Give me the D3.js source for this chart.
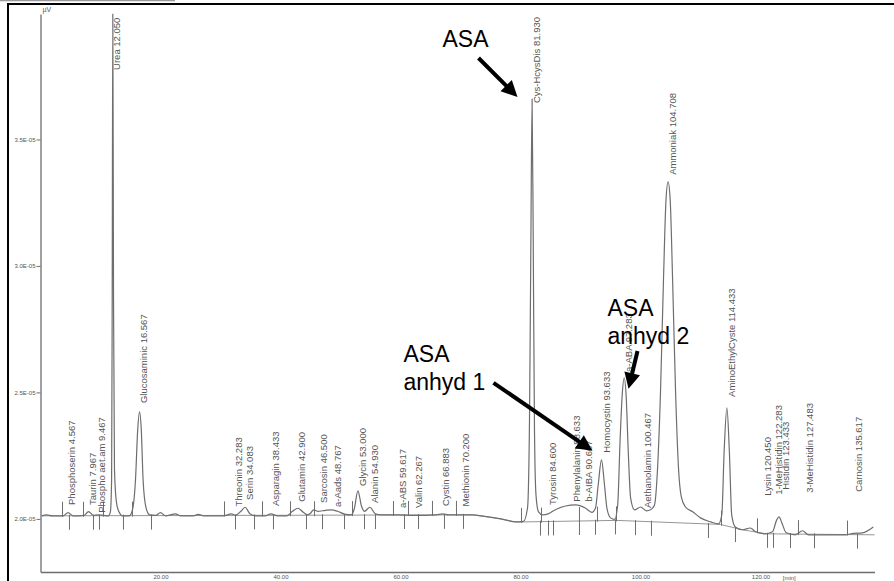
<!DOCTYPE html>
<html>
<head>
<meta charset="utf-8">
<script src="https://cdnjs.cloudflare.com/ajax/libs/d3/7.8.5/d3.min.js"></script>
<style>
body{margin:0;background:#fff;}
svg{display:block;}
</style>
</head>
<body>
<svg id="chart" width="894" height="581"></svg>
<script>
// detector signal, [time in min, signal in 1E-05 uV]
var trace = [
    [0.2,2.012],[1.0,2.016],[2.0,2.012],[3.8,2.012],[4.6,2.025],[5.4,2.012],
    [7.3,2.014],[8.0,2.029],[8.8,2.014],[9.5,2.016],[10.5,2.014],[11.3,2.012],
    [11.65,2.028],[11.85,2.154],[11.95,2.866],[12.05,3.996],[12.17,2.866],[12.33,2.194],
    [12.67,2.063],[13.08,2.028],[13.67,2.012],[14.8,2.012],
    [15.33,2.036],[15.83,2.154],[16.2,2.352],[16.5,2.423],[16.8,2.352],[17.1,2.154],
    [17.6,2.043],[18.2,2.016],[19.2,2.014],[20.0,2.025],[20.8,2.012],[22.5,2.020],
    [23.3,2.012],[25.5,2.012],[26.3,2.018],[27.2,2.012],[30.5,2.012],[31.8,2.020],
    [32.5,2.014],[33.4,2.030],[34.1,2.046],[34.9,2.020],[35.8,2.012],[37.5,2.012],
    [38.4,2.020],[39.5,2.012],[41.0,2.012],[42.0,2.030],[42.9,2.042],[43.8,2.026],
    [44.5,2.016],[45.0,2.022],[45.5,2.036],[46.2,2.030],[47.5,2.034],[48.5,2.036],
    [49.5,2.030],[50.8,2.018],[51.8,2.016],[52.3,2.040],[52.9,2.111],[53.5,2.050],
    [54.0,2.030],[54.9,2.046],[55.8,2.020],[56.8,2.016],[59.6,2.016],[62.0,2.014],
    [66.0,2.016],[67.0,2.020],[68.0,2.016],[72.0,2.016],[74.0,2.010],[76.7,2.000],
    [79.2,1.988],[80.5,1.990],
    [81.17,2.043],[81.5,2.391],[81.72,3.063],[81.93,3.660],[82.13,3.063],[82.33,2.352],
    [82.58,2.095],[83.0,2.028],[83.7,2.016],[84.6,2.020],[85.8,2.036],[87.5,2.051],
    [89.2,2.055],[90.8,2.043],[91.9,2.026],
    [92.5,2.043],[92.95,2.134],[93.5,2.233],[94.0,2.134],[94.4,2.043],[95.0,2.004],
    [95.7,1.998],[96.2,2.055],[96.6,2.312],[96.95,2.490],[97.28,2.557],[97.6,2.490],
    [97.95,2.273],[98.35,2.083],[99.0,2.036],[100.0,2.047],[101.0,2.032],[101.67,2.036],
    [102.33,2.055],[102.83,2.194],[103.33,2.498],[103.83,2.945],[104.25,3.261],[104.6,3.332],
    [104.95,3.261],[105.35,2.945],[105.85,2.498],[106.35,2.194],[106.8,2.087],[107.5,2.047],
    [108.7,2.028],[110.0,2.004],[111.7,1.988],[113.0,1.980],
    [113.55,2.016],[113.95,2.273],[114.4,2.439],[114.8,2.273],[115.2,2.016],[115.8,1.968],
    [117.0,1.957],[118.3,1.964],[119.2,1.949],[120.8,1.941],[122.0,1.949],[122.7,1.996],
    [123.1,2.008],[123.5,1.988],[124.3,1.945],[125.8,1.937],[127.0,1.953],[128.0,1.937],
    [134.2,1.937],[135.5,1.943],[137.0,1.945],[138.8,1.968]
];

// integration baseline
var baseline = [[0.2,2.012],[72,2.016],[74,2.010],[76.7,2.000],[79.2,1.988],[80.5,1.988],
    [96,1.994],[113.3,1.978],[117,1.957],[121,1.941],[139,1.937]];

var peakNames = ["Phosphoserin","Taurin","Phospho aet.am","Urea","Glucosaminic","Threonin","Serin",
    "Asparagin","Glutamin","Sarcosin","a-Aads","Glycin","Alanin","a-ABS","Valin","Cystin",
    "Methionin","Cys-HcysDis","Tyrosin","Phenylalanin","b-AIBA","Homocystin","a-ABA",
    "Aethanolamin","Ammoniak","AminoEthylCyste","Lysin","1-MeHistidin","Histidin",
    "3-MeHistidin","Carnosin"];
var peakTimes = [4.567,7.967,9.467,12.050,16.567,32.283,34.083,38.433,42.900,46.500,48.767,
    53.000,54.930,59.617,62.267,66.883,70.200,81.930,84.600,88.633,90.667,93.633,97.283,
    100.467,104.708,114.433,120.450,122.283,123.433,127.483,135.617];
// signal level where each peak label starts
var labelLevels = [2.055,2.055,2.024,3.775,2.458,2.049,2.075,2.051,2.068,2.063,2.047,2.130,
    2.063,2.043,2.043,2.051,2.049,3.644,2.055,2.068,2.068,2.261,2.581,2.043,3.360,2.482,
    2.091,2.095,2.115,2.103,2.107];

// peak start / end markers
var startMarks = [3.67,7.17,10.5,15.33,30.67,37.0,41.67,45.67,52.0,58.83,61.33,65.33,69.33,
    80.17,83.5,89.83,92.83,96.0,113.5,119.5,126.33,134.5];
var endMarks = [4.83,8.83,9.83,13.83,18.5,32.5,35.67,38.83,44.33,47.0,50.67,54.0,55.83,60.67,
    63.0,67.33,70.5,83.33,84.67,85.5,89.83,92.5,95.83,99.17,101.83,111.33,115.83,121.17,
    122.17,125.0,129.0,136.17];

var yTicks = [2.0,2.5,3.0,3.5];
var xTicks = [20,40,60,80,100,120];

// hand annotations: text at [t,v], arrow from [t,v] to [t,v]
var noteLines = [["ASA"],["ASA","anhyd 1"],["ASA","anhyd 2"]];
var notePos = [[67.0,3.866],[60.5,2.621],[94.5,2.802]];
var arrowFrom = [[73.0,3.822],[75.5,2.538],[99.5,2.664]];
var arrowTo = [[79.5,3.668],[92.0,2.269],[98.0,2.514]];

var svg = d3.select("#chart");

var x = d3.scaleLinear().domain([0,139]).range([40.5,874.5]);
var y = d3.scaleLinear().domain([1.79,3.996]).range([572,14]);

var grey = "#6e6e6e";

// frame
svg.append("line")
    .attr("x1",0).attr("y1",0.5).attr("x2",175).attr("y2",0.5)
    .style("stroke","#999").style("stroke-width",1.5);
svg.append("path")
    .attr("d","M8,581V4H894")
    .style("fill","none").style("stroke","#000").style("stroke-width",2);

// axes
var yAxis = d3.axisLeft(y)
    .tickValues(yTicks)
    .tickSizeInner(4).tickSizeOuter(0).tickPadding(1)
    .tickFormat(function(d){ return d.toFixed(1) + "E-05"; });
var xAxis = d3.axisBottom(x)
    .tickValues(xTicks)
    .tickSizeInner(0).tickSizeOuter(0).tickPadding(3)
    .tickFormat(d3.format(".2f"));

var gy = svg.append("g").attr("transform","translate(" + x(0) + ",0)").call(yAxis);
var gx = svg.append("g").attr("transform","translate(0,572)").call(xAxis);

[gx,gy].forEach(function(g){
    g.select(".domain").style("stroke",grey).style("stroke-width",1.3);
    g.selectAll(".tick line").style("stroke",grey);
    g.selectAll(".tick text")
	.style("font-family","'Liberation Sans', Arial, sans-serif")
	.style("font-size","6px")
	.style("fill","#555");
});

svg.append("text")
    .attr("x",x(0)+2).attr("y",12)
    .style("font-family","'Liberation Sans', Arial, sans-serif")
    .style("font-size","7px").style("fill","#555")
    .text("\u00b5V");
svg.append("text")
    .attr("x",x(124.8)).attr("y",579.5)
    .attr("text-anchor","middle")
    .style("font-family","'Liberation Sans', Arial, sans-serif")
    .style("font-size","6px").style("fill","#555")
    .text("[min]");

// integration baseline
var line = d3.line()
    .x(function(d){ return x(d[0]); })
    .y(function(d){ return y(d[1]); });

svg.append("path")
    .datum(baseline)
    .attr("d",line)
    .style("fill","none").style("stroke","#8a8a8a").style("stroke-width",0.9);

function baseAt(t){
    var i = d3.bisector(function(d){ return d[0]; }).right(baseline,t);
    i = Math.max(1,Math.min(baseline.length-1,i));
    var a = baseline[i-1], b = baseline[i];
    return a[1] + (b[1]-a[1])*(t-a[0])/(b[0]-a[0]);
}

// peak start/end markers
svg.selectAll(".mark-up")
    .data(startMarks)
    .enter().append("line")
    .attr("x1",function(d){ return x(d); })
    .attr("x2",function(d){ return x(d); })
    .attr("y1",function(d){ return y(baseAt(d)) - 14; })
    .attr("y2",function(d){ return y(baseAt(d)) + 1; })
    .style("stroke",grey).style("stroke-width",1);

svg.selectAll(".mark-down")
    .data(endMarks)
    .enter().append("line")
    .attr("x1",function(d){ return x(d); })
    .attr("x2",function(d){ return x(d); })
    .attr("y1",function(d){ return y(baseAt(d)) - 1; })
    .attr("y2",function(d){ return y(baseAt(d)) + 14; })
    .style("stroke",grey).style("stroke-width",1);

// signal
svg.append("path")
    .datum(trace)
    .attr("d",line.curve(d3.curveMonotoneX))
    .style("fill","none").style("stroke",grey).style("stroke-width",1.2);

// peak labels
svg.selectAll(".peak-label")
    .data(peakNames)
    .enter().append("text")
    .attr("class","peak-label")
    .attr("transform",function(d,i){
	return "translate(" + (x(peakTimes[i]) + 4.2) + "," + y(labelLevels[i]) + ") rotate(-90)";
    })
    .attr("dy","0.35em")
    .style("font-family","'Liberation Sans', Arial, sans-serif")
    .style("font-size","9.5px")
    .style("fill","#555")
    .text(function(d,i){ return d + " " + peakTimes[i].toFixed(3); });

// annotations
noteLines.forEach(function(lines,i){
    var t = svg.append("text")
	.attr("x",x(notePos[i][0]))
	.attr("y",y(notePos[i][1]))
	.style("font-family","'Liberation Sans', Arial, sans-serif")
	.style("font-size","23px")
	.style("fill","#000");
    lines.forEach(function(s,j){
	t.append("tspan")
	    .attr("x",x(notePos[i][0]))
	    .attr("dy",j == 0 ? 0 : 28)
	    .text(s);
    });

    var x0 = x(arrowFrom[i][0]), y0 = y(arrowFrom[i][1]),
	x1 = x(arrowTo[i][0]), y1 = y(arrowTo[i][1]);
    var len = Math.sqrt((x1-x0)*(x1-x0) + (y1-y0)*(y1-y0)),
	ux = (x1-x0)/len, uy = (y1-y0)/len,
	headLen = 16, headW = 8;
    var bx = x1 - ux*headLen, by = y1 - uy*headLen;

    svg.append("line")
	.attr("x1",x0).attr("y1",y0).attr("x2",bx + ux*2).attr("y2",by + uy*2)
	.style("stroke","#000").style("stroke-width",4);
    svg.append("path")
	.attr("d","M" + x1 + "," + y1 +
	      "L" + (bx - uy*headW) + "," + (by + ux*headW) +
	      "L" + (bx + uy*headW) + "," + (by - ux*headW) + "Z")
	.style("fill","#000");
});
</script>
</body>
</html>
